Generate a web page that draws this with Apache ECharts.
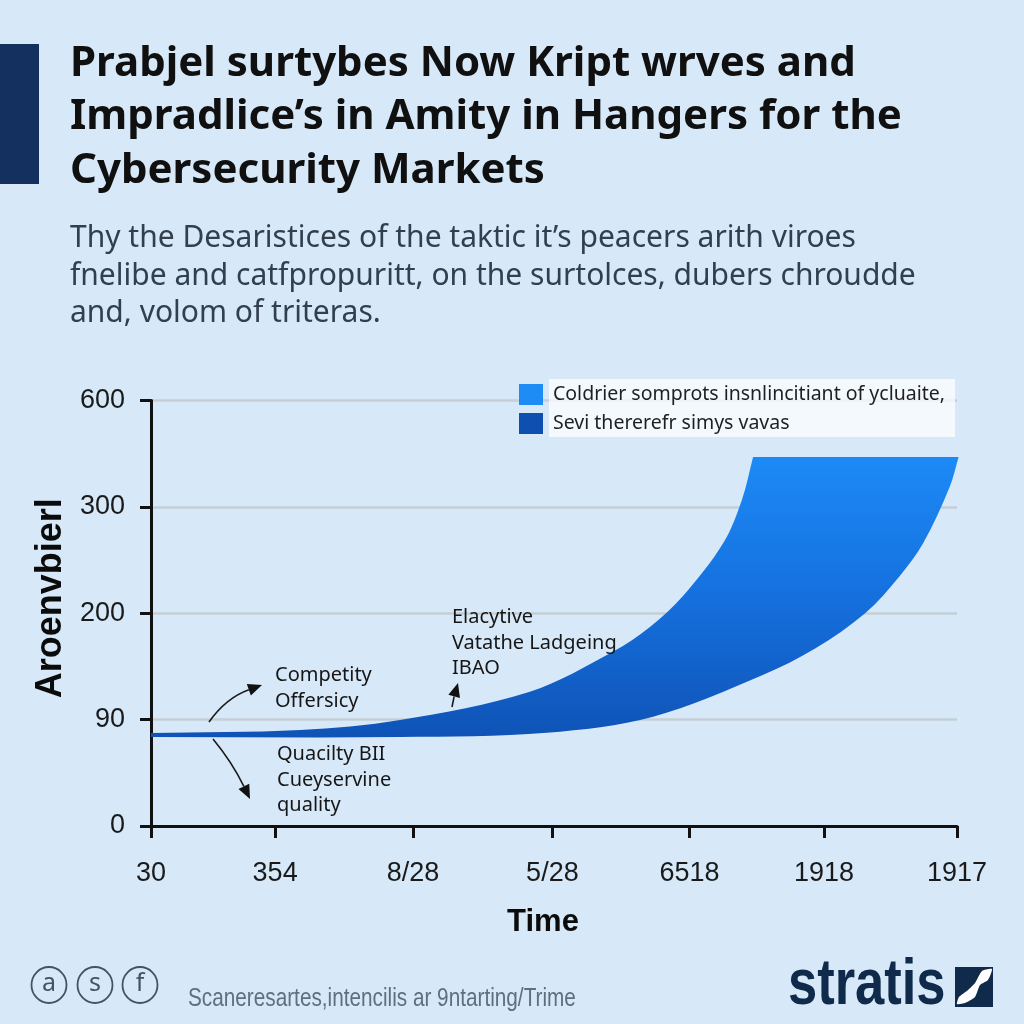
<!DOCTYPE html>
<html>
<head>
<meta charset="utf-8">
<title>Cybersecurity Markets</title>
<style>
  html, body { margin: 0; padding: 0; background: #d7e9f9; }
  #chart { width: 1024px; height: 1024px; }
</style>
<script src="https://cdn.jsdelivr.net/npm/echarts@6/dist/echarts.min.js"></script>
</head>
<body>
<div id="chart"></div>
<script>
// chart texts
var titleText = 'Prabjel surtybes Now Kript wrves and\nImpradlice\u2019s in Amity in Hangers for the\nCybersecurity Markets'
var subText = 'Thy the Desaristices of the taktic it\u2019s peacers arith viroes\nfnelibe and catfpropuritt, on the surtolces, dubers chroudde\nand, volom of triteras.'
var yName = 'Aroenvbierl'
var xName = 'Time'
var legendNames = ['Coldrier somprots insnlincitiant of ycluaite,', 'Sevi thererefr simys vavas']
var footerText = 'Scaneresartes,intencilis ar 9ntarting/Trime'

// axes (the y ticks are evenly spaced although their values are not)
var yTicks = [0, 90, 200, 300, 600]
var xTickPos = [0, 15.4, 32.5, 49.8, 66.8, 83.5, 100]
var xTickLabels = ['30', '354', '8/28', '5/28', '6518', '1918', '1917']

// upper edge of the band
var upperX = [0, 18.5, 30.9, 47, 57.3, 61.9, 66, 71, 73.3, 74.7]
var upperY = [78.7, 81.2, 89.7, 118.8, 160.2, 185.7, 216.2, 266, 319, 440.4]
// lower edge of the band
var lowerX = [0, 30.9, 49.1, 62.3, 75.9, 82.4, 88.6, 92.9, 95.8, 99.1, 100.2]
var lowerY = [75.3, 75.3, 78.9, 93, 136.1, 163.5, 199.9, 235, 265.7, 356.7, 440.4]

// value -> slot on the evenly spaced y axis
function toSlot (v) {
  for (var i = 0; i < yTicks.length - 1; i++) {
    if (v <= yTicks[i + 1]) {
      return i + (v - yTicks[i]) / (yTicks[i + 1] - yTicks[i])
    }
  }
  return yTicks.length - 1
}

function edgeData (xs, ys) {
  return xs.map(function (x, i) { return [x, toSlot(ys[i])] })
}

var upperData = edgeData(upperX, upperY)
var lowerData = edgeData(lowerX, lowerY)

var FONT = '"Noto Sans", "Open Sans", sans-serif'
var ARIAL = '"Liberation Sans", sans-serif'

function dist (a, b) {
  return Math.sqrt((a[0] - b[0]) * (a[0] - b[0]) + (a[1] - b[1]) * (a[1] - b[1]))
}

// curve through points, tangents scaled by chord length so uneven spacing does not kink
function curve (ctx, p) {
  for (var i = 0; i < p.length - 1; i++) {
    var p0 = p[i - 1] || p[i]
    var p1 = p[i]
    var p2 = p[i + 1]
    var p3 = p[i + 2] || p2
    var d = dist(p1, p2) / 3
    var a = dist(p0, p2)
    var b = dist(p1, p3)
    ctx.bezierCurveTo(
      p1[0] + (p2[0] - p0[0]) / a * d, p1[1] + (p2[1] - p0[1]) / a * d,
      p2[0] - (p3[0] - p1[0]) / b * d, p2[1] - (p3[1] - p1[1]) / b * d,
      p2[0], p2[1]
    )
  }
}

echarts.graphic.registerShape('band', echarts.graphic.extendShape({
  shape: { upper: [], lower: [] },
  buildPath: function (ctx, shape) {
    ctx.moveTo(shape.upper[0][0], shape.upper[0][1])
    curve(ctx, shape.upper)
    var back = shape.lower.slice().reverse()
    ctx.lineTo(back[0][0], back[0][1])
    curve(ctx, back)
    ctx.closePath()
  }
}))

function arrow (x0, y0, cx, cy, x1, y1) {
  var a = Math.atan2(y1 - cy, x1 - cx)
  var len = 14
  var w = 6
  var bx = x1 - Math.cos(a) * len
  var by = y1 - Math.sin(a) * len
  return [
    {
      type: 'bezierCurve',
      z: 6,
      shape: { x1: x0, y1: y0, cpx1: cx, cpy1: cy, x2: bx, y2: by },
      style: { stroke: '#1a1a1a', lineWidth: 1.6, fill: null }
    },
    {
      type: 'polygon',
      z: 6,
      shape: {
        points: [
          [x1, y1],
          [bx - Math.sin(a) * w, by + Math.cos(a) * w],
          [bx + Math.sin(a) * w, by - Math.cos(a) * w]
        ]
      },
      style: { fill: '#111' }
    }
  ]
}

function note (x, y, text) {
  return {
    type: 'text',
    z: 6,
    x: x,
    y: y,
    style: {
      text: text,
      font: '20px ' + FONT,
      lineHeight: 25.5,
      fill: '#161616'
    }
  }
}

function badge (cx, letter) {
  return [
    {
      type: 'ellipse',
      shape: { cx: cx, cy: 985, rx: 17.5, ry: 18 },
      style: { fill: null, stroke: '#3f5565', lineWidth: 1.8 }
    },
    {
      type: 'text',
      x: cx,
      y: 984,
      style: {
        text: letter,
        font: '25px ' + FONT,
        fill: '#3f5565',
        align: 'center',
        verticalAlign: 'middle'
      }
    }
  ]
}

var graphics = [
  { type: 'rect', shape: { x: 0, y: 44, width: 39, height: 140 }, style: { fill: '#14305f' } },
  // legend panel
  { type: 'rect', z: 3, shape: { x: 549, y: 379, width: 406, height: 58 }, style: { fill: 'rgba(255,255,255,0.72)' } },
  note(275, 663, 'Competity\nOffersicy'),
  note(277, 742, 'Quacilty BII\nCueyservine\nquality'),
  note(452, 605, 'Elacytive\nVatathe Ladgeing\nIBAO'),
  {
    type: 'text',
    x: 188,
    y: 999,
    scaleX: 0.83,
    style: {
      text: footerText,
      font: '25px ' + ARIAL,
      fill: '#5f6f7d',
      verticalAlign: 'middle'
    }
  },
  {
    type: 'text',
    x: 788,
    y: 986,
    scaleX: 0.82,
    style: {
      text: 'stratis',
      font: 'bold 64px ' + ARIAL,
      fill: '#0f2a4a',
      verticalAlign: 'middle'
    }
  },
  { type: 'rect', shape: { x: 955, y: 967, width: 38, height: 40 }, style: { fill: '#0f2a4a' } },
  {
    type: 'polygon',
    shape: {
      smooth: 0.2,
      points: [[992, 969], [988, 980], [980, 985], [975, 997], [965, 1003], [957, 1004], [959, 997], [968, 990], [975, 983], [982, 971]]
    },
    style: { fill: '#ffffff' }
  }
]
graphics = graphics
  .concat(arrow(209, 722, 226, 698, 262, 685))
  .concat(arrow(213, 739, 232, 762, 250, 799))
  .concat(arrow(452, 707, 454, 697, 458, 683))
  .concat(badge(49, 'a'))
  .concat(badge(95, 's'))
  .concat(badge(140, 'f'))

var chart = echarts.init(document.getElementById('chart'))
chart.setOption({
  animation: false,
  backgroundColor: '#d7e9f9',
  title: [
    {
      left: 65,
      top: 32,
      text: titleText,
      textStyle: { fontFamily: FONT, fontWeight: 'bold', fontSize: 42, lineHeight: 53.5, color: '#101010' }
    },
    {
      left: 65,
      top: 215,
      text: subText,
      textStyle: { fontFamily: FONT, fontWeight: 'normal', fontSize: 30, lineHeight: 37.5, color: '#323f4d' }
    }
  ],
  grid: { left: 151, right: 67, top: 400.5, bottom: 198 },
  legend: {
    left: 514,
    top: 379,
    orient: 'vertical',
    icon: 'rect',
    itemWidth: 24,
    itemHeight: 21,
    itemGap: 8,
    selectedMode: false,
    textStyle: { fontFamily: FONT, fontSize: 19.5, color: '#1f1f1f', padding: [4, 0, 0, 5] },
    data: [
      { name: legendNames[0], itemStyle: { color: '#1e8cf5' } },
      { name: legendNames[1], itemStyle: { color: '#0f4fb0' } }
    ]
  },
  xAxis: {
    type: 'value',
    min: 0,
    max: 100,
    name: xName,
    nameLocation: 'middle',
    nameGap: 81,
    nameTextStyle: { fontFamily: ARIAL, fontWeight: 'bold', fontSize: 31, color: '#0b0b0b', padding: [0, 22, 0, 0] },
    splitLine: { show: false },
    axisLine: { lineStyle: { color: '#111', width: 3 } },
    axisTick: { customValues: xTickPos, length: 12, lineStyle: { color: '#111', width: 3 } },
    axisLabel: {
      customValues: xTickPos,
      margin: 34,
      fontFamily: ARIAL,
      fontSize: 27,
      color: '#1a1a1a',
      formatter: function (v) { return xTickLabels[xTickPos.indexOf(v)] }
    }
  },
  yAxis: {
    type: 'value',
    min: 0,
    max: yTicks.length - 1,
    interval: 1,
    name: yName,
    nameLocation: 'middle',
    nameRotate: 90,
    nameGap: 63,
    nameTextStyle: { fontFamily: ARIAL, fontWeight: 'bold', fontSize: 36, color: '#0b0b0b', padding: [0, 0, 0, 30] },
    splitLine: { lineStyle: { color: '#c5ced6', width: 2.5 } },
    axisLine: { show: true, lineStyle: { color: '#111', width: 3 } },
    axisTick: { show: true, length: 11, lineStyle: { color: '#111', width: 3 } },
    axisLabel: {
      margin: 26,
      fontFamily: ARIAL,
      fontSize: 27,
      color: '#1a1a1a',
      padding: [4, 0, 0, 0],
      formatter: function (v) { return yTicks[v] }
    }
  },
  graphic: { elements: graphics },
  series: [
    {
      type: 'custom',
      coordinateSystem: 'cartesian2d',
      silent: true,
      z: 2,
      data: [0],
      encode: { x: [], y: [] },
      renderItem: function (params, api) {
        return {
          type: 'band',
          shape: {
            upper: upperData.map(function (d) { return api.coord(d) }),
            lower: lowerData.map(function (d) { return api.coord(d) })
          },
          style: {
            fill: new echarts.graphic.LinearGradient(0, 0, 0, 1, [
              { offset: 0, color: '#1c8af6' },
              { offset: 0.5, color: '#1570de' },
              { offset: 1, color: '#0f53b6' }
            ])
          }
        }
      }
    },
    {
      name: legendNames[0],
      type: 'line',
      smooth: true,
      symbol: 'none',
      silent: true,
      lineStyle: { opacity: 0 },
      data: upperData
    },
    {
      name: legendNames[1],
      type: 'line',
      smooth: true,
      symbol: 'none',
      silent: true,
      lineStyle: { opacity: 0 },
      data: lowerData
    }
  ]
})
</script>
</body>
</html>
